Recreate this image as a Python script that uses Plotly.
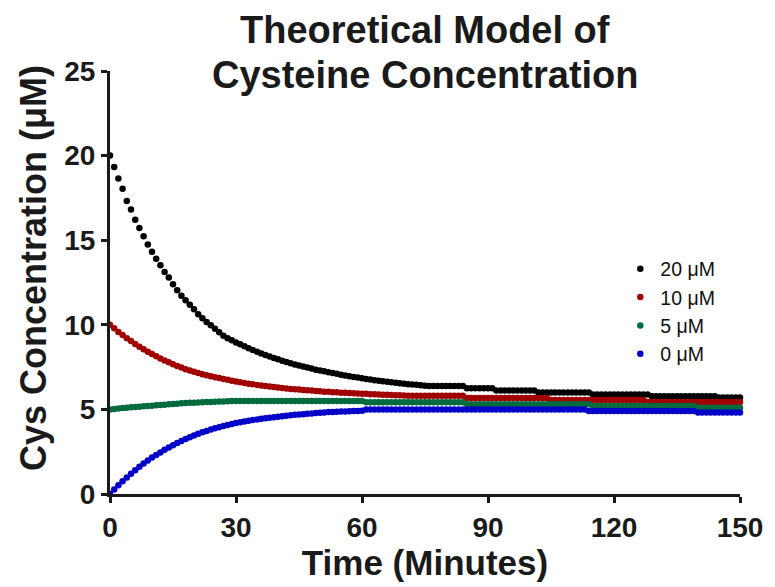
import plotly.graph_objects as go

time_min = list(range(0, 151))

cys_20 = [20.00, 19.33, 18.65, 18.04, 17.32, 16.82, 16.21, 15.72, 15.23, 14.74,
          14.31, 13.91, 13.52, 13.12, 12.79, 12.39, 12.04, 11.72, 11.45, 11.18,
          10.92, 10.62, 10.38, 10.17, 9.97, 9.76, 9.56, 9.36, 9.20, 9.08,
          8.96, 8.85, 8.73, 8.62, 8.51, 8.41, 8.31, 8.22, 8.13, 8.04,
          7.96, 7.88, 7.80, 7.73, 7.66, 7.59, 7.53, 7.47, 7.41, 7.35,
          7.30, 7.25, 7.20, 7.15, 7.10, 7.05, 7.01, 6.96, 6.92, 6.88,
          6.84, 6.80, 6.76, 6.73, 6.70, 6.66, 6.63, 6.60, 6.57, 6.54,
          6.52, 6.49, 6.47, 6.45, 6.42, 6.40, 6.38, 6.38, 6.38, 6.38,
          6.38, 6.38, 6.38, 6.38, 6.38, 6.25, 6.25, 6.25, 6.25, 6.25,
          6.25, 6.25, 6.12, 6.12, 6.12, 6.12, 6.12, 6.12, 6.12, 6.12,
          6.12, 6.12, 6.00, 6.00, 6.00, 6.00, 6.00, 6.00, 6.00, 6.00,
          6.00, 6.00, 6.00, 6.00, 6.00, 5.88, 5.88, 5.88, 5.88, 5.88,
          5.88, 5.88, 5.88, 5.88, 5.88, 5.88, 5.88, 5.88, 5.88, 5.77,
          5.77, 5.77, 5.77, 5.77, 5.77, 5.77, 5.77, 5.77, 5.77, 5.77,
          5.77, 5.77, 5.77, 5.77, 5.77, 5.70, 5.70, 5.70, 5.70, 5.70,
          5.70]

cys_10 = [10.00, 9.79, 9.58, 9.40, 9.21, 9.04, 8.87, 8.71, 8.55, 8.41,
          8.27, 8.14, 8.01, 7.89, 7.78, 7.67, 7.57, 7.47, 7.38, 7.30,
          7.22, 7.15, 7.08, 7.02, 6.96, 6.90, 6.85, 6.80, 6.75, 6.70,
          6.65, 6.60, 6.56, 6.52, 6.48, 6.44, 6.41, 6.38, 6.35, 6.32,
          6.29, 6.26, 6.24, 6.21, 6.19, 6.17, 6.15, 6.13, 6.11, 6.09,
          6.07, 6.05, 6.04, 6.02, 6.01, 5.99, 5.98, 5.97, 5.95, 5.94,
          5.93, 5.92, 5.90, 5.89, 5.88, 5.87, 5.86, 5.85, 5.84, 5.83,
          5.82, 5.80, 5.80, 5.80, 5.80, 5.80, 5.80, 5.80, 5.80, 5.80,
          5.80, 5.80, 5.80, 5.80, 5.80, 5.68, 5.68, 5.68, 5.68, 5.68,
          5.68, 5.68, 5.68, 5.68, 5.68, 5.68, 5.68, 5.68, 5.68, 5.68,
          5.68, 5.68, 5.68, 5.68, 5.68, 5.55, 5.55, 5.55, 5.55, 5.55,
          5.55, 5.55, 5.55, 5.55, 5.55, 5.55, 5.55, 5.55, 5.55, 5.55,
          5.55, 5.55, 5.55, 5.55, 5.55, 5.55, 5.55, 5.55, 5.43, 5.43,
          5.43, 5.43, 5.43, 5.43, 5.43, 5.43, 5.43, 5.43, 5.43, 5.43,
          5.43, 5.43, 5.43, 5.43, 5.43, 5.43, 5.43, 5.43, 5.43, 5.43,
          5.43]

cys_5 = [5.00, 5.03, 5.06, 5.08, 5.10, 5.12, 5.14, 5.16, 5.18, 5.20,
         5.22, 5.24, 5.26, 5.28, 5.30, 5.32, 5.34, 5.36, 5.38, 5.39,
         5.40, 5.41, 5.42, 5.43, 5.44, 5.45, 5.46, 5.47, 5.48, 5.50,
         5.50, 5.50, 5.50, 5.50, 5.50, 5.50, 5.50, 5.50, 5.50, 5.50,
         5.50, 5.50, 5.50, 5.50, 5.50, 5.50, 5.50, 5.50, 5.50, 5.50,
         5.50, 5.50, 5.50, 5.50, 5.50, 5.50, 5.50, 5.50, 5.50, 5.50,
         5.50, 5.42, 5.42, 5.42, 5.42, 5.42, 5.42, 5.42, 5.42, 5.42,
         5.42, 5.42, 5.42, 5.42, 5.42, 5.42, 5.42, 5.42, 5.42, 5.42,
         5.42, 5.42, 5.42, 5.42, 5.42, 5.30, 5.30, 5.30, 5.30, 5.30,
         5.30, 5.30, 5.30, 5.30, 5.30, 5.30, 5.30, 5.30, 5.30, 5.30,
         5.30, 5.30, 5.30, 5.30, 5.30, 5.30, 5.30, 5.30, 5.30, 5.30,
         5.30, 5.30, 5.30, 5.30, 5.30, 5.20, 5.20, 5.20, 5.20, 5.20,
         5.20, 5.20, 5.20, 5.20, 5.20, 5.20, 5.20, 5.20, 5.20, 5.20,
         5.20, 5.20, 5.20, 5.20, 5.20, 5.20, 5.20, 5.20, 5.20, 5.20,
         5.10, 5.10, 5.10, 5.10, 5.10, 5.10, 5.10, 5.10, 5.10, 5.10,
         5.10]

cys_0 = [0.00, 0.26, 0.51, 0.75, 0.98, 1.20, 1.41, 1.61, 1.80, 1.98,
         2.15, 2.31, 2.46, 2.61, 2.75, 2.88, 3.01, 3.13, 3.25, 3.36,
         3.46, 3.56, 3.65, 3.73, 3.81, 3.88, 3.95, 4.02, 4.08, 4.14,
         4.19, 4.24, 4.29, 4.33, 4.37, 4.41, 4.45, 4.48, 4.51, 4.54,
         4.57, 4.60, 4.63, 4.66, 4.68, 4.70, 4.72, 4.74, 4.76, 4.78,
         4.80, 4.82, 4.84, 4.85, 4.86, 4.87, 4.88, 4.89, 4.90, 4.91,
         4.92, 5.00, 5.00, 5.00, 5.00, 5.00, 5.00, 5.00, 5.00, 5.00,
         5.00, 5.00, 5.00, 5.00, 5.00, 5.00, 5.00, 5.00, 5.00, 5.00,
         5.00, 5.00, 5.00, 5.00, 5.00, 5.00, 5.00, 5.00, 5.00, 5.00,
         5.00, 5.00, 5.00, 5.00, 5.00, 5.00, 5.00, 5.00, 5.00, 5.00,
         5.00, 5.00, 5.00, 5.00, 5.00, 5.00, 5.00, 5.00, 5.00, 5.00,
         5.00, 5.00, 5.00, 5.00, 4.90, 4.90, 4.90, 4.90, 4.90, 4.90,
         4.90, 4.90, 4.90, 4.90, 4.90, 4.90, 4.90, 4.90, 4.90, 4.90,
         4.90, 4.90, 4.90, 4.90, 4.90, 4.90, 4.90, 4.90, 4.90, 4.90,
         4.81, 4.81, 4.81, 4.81, 4.81, 4.81, 4.81, 4.81, 4.81, 4.81,
         4.81]

series_names = ["20 μM", "10 μM", "5 μM", "0 μM"]
series_values = [cys_20, cys_10, cys_5, cys_0]
series_colors = ["#000000", "#a00000", "#006b3f", "#0000c8"]

x_ticks = [0, 30, 60, 90, 120, 150]
y_ticks = [0, 5, 10, 15, 20, 25]

title_lines = ["Theoretical Model of", "Cysteine Concentration"]
x_title = "Time (Minutes)"
y_title = "Cys Concentration (μM)"

FONT = "Liberation Sans, Arial, sans-serif"
INK = "#1a1a1a"

fig = go.Figure()
for name, vals, col in zip(series_names, series_values, series_colors):
    fig.add_trace(go.Scatter(
        x=time_min, y=vals, mode="markers", name=name,
        marker=dict(color=col, size=6.5, line=dict(width=0)),
        cliponaxis=False,
    ))

# title (two lines, placed separately for exact line spacing)
for line, ypix in zip(title_lines, [30, 75]):
    fig.add_annotation(
        text="<b>%s</b>" % line, xref="paper", yref="paper",
        x=0.5, y=(495.5 - ypix) / 424.5, xanchor="center", yanchor="middle",
        showarrow=False, font=dict(family=FONT, size=38, color=INK),
    )

fig.add_annotation(
    text="<b>%s</b>" % y_title, xref="paper", yref="paper",
    x=(33 - 110) / 640, y=(495.5 - 268.5) / 424.5,
    xanchor="center", yanchor="middle", textangle=-90,
    showarrow=False, font=dict(family=FONT, size=36, color=INK),
)

fig.update_layout(
    width=775, height=587,
    margin=dict(l=110, r=25, t=71, b=92),
    paper_bgcolor="white", plot_bgcolor="white",
    showlegend=True,
    legend=dict(
        x=0.81, y=0.578, xanchor="left", yanchor="top",
        font=dict(family=FONT, size=19.5, color="#111111"),
        bgcolor="rgba(0,0,0,0)", itemsizing="trace",
        tracegroupgap=0,
    ),
    xaxis=dict(
        range=[0, 150], tickvals=x_ticks, ticktext=[str(v) for v in x_ticks],
        showgrid=False, zeroline=False, showline=True, linewidth=3,
        linecolor=INK, ticks="outside", ticklen=6, tickwidth=3,
        tickcolor=INK,
        tickfont=dict(family=FONT, size=28, color=INK, weight="bold"),
        title=dict(text="<b>%s</b>" % x_title, standoff=8,
                   font=dict(family=FONT, size=35, color=INK)),
    ),
    yaxis=dict(
        range=[0, 25], tickvals=y_ticks, ticktext=[str(v) for v in y_ticks],
        showgrid=False, zeroline=False, showline=True, linewidth=3,
        linecolor=INK, ticks="outside", ticklen=6, tickwidth=3,
        tickcolor=INK,
        tickfont=dict(family=FONT, size=28, color=INK, weight="bold"),
    ),
)

fig.write_html("out.html")
